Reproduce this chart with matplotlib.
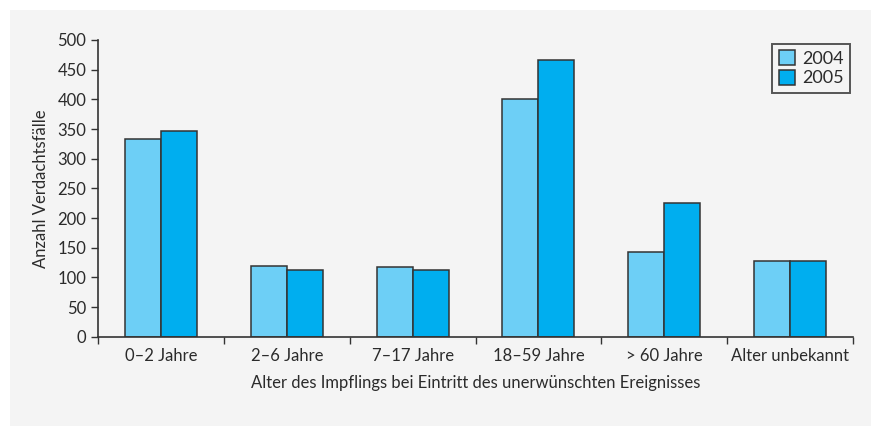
import numpy as np
import matplotlib
matplotlib.use('Agg')
import matplotlib.pyplot as plt
from matplotlib.patches import Rectangle

categories = ['0\u20132 Jahre', '2\u20136 Jahre', '7\u201317 Jahre', '18\u201359 Jahre',
              '> 60 Jahre', 'Alter unbekannt']
series_names = ['2004', '2005']
values_2004 = [334, 119, 117, 400, 143, 128]
values_2005 = [347, 113, 113, 467, 225, 128]
yticks = [0, 50, 100, 150, 200, 250, 300, 350, 400, 450, 500]

plt.rcParams['font.family'] = ['Lato', 'DejaVu Sans']
text_col = '#2b2b2b'
panel_col = '#f4f4f4'
edge_col = '#333333'
colors = ['#6dcff6', '#00aeef']
fs = 12

fig = plt.figure(figsize=(8.71, 4.26), dpi=100)
fig.patch.set_facecolor('white')
fig.patches.append(Rectangle((10 / 871, 0), 1, 1 - 10 / 426, transform=fig.transFigure,
                             facecolor=panel_col, edgecolor='none', zorder=-10))

ax = fig.add_axes([98 / 871, 1 - 336.7 / 426, (853 - 98) / 871, (336.7 - 40) / 426])
ax.set_facecolor(panel_col)

x = np.arange(len(categories)) + 0.5
w = 0.286
ax.bar(x - w / 2, values_2004, w, color=colors[0], edgecolor=edge_col, linewidth=1.1,
       label=series_names[0])
ax.bar(x + w / 2, values_2005, w, color=colors[1], edgecolor=edge_col, linewidth=1.1,
       label=series_names[1])

ax.set_xlim(0, len(categories))
ax.set_ylim(0, 500)
ax.set_yticks(yticks)
ax.set_xticks(np.arange(len(categories) + 1))
ax.set_xticklabels([])
ax.set_xticks(x, minor=True)
ax.set_xticklabels(categories, minor=True)
ax.tick_params(axis='x', which='minor', length=0, pad=8)
ax.tick_params(axis='both', which='major', length=5, width=1, color=edge_col)
ax.tick_params(labelsize=fs, labelcolor=text_col)
ax.tick_params(axis='x', which='minor', labelsize=fs, labelcolor=text_col)

for s in ['top', 'right']:
    ax.spines[s].set_visible(False)
for s in ['left', 'bottom']:
    ax.spines[s].set_color(edge_col)
    ax.spines[s].set_linewidth(1.2)

ax.set_ylabel('Anzahl Verdachtsfälle', fontsize=fs, color=text_col, labelpad=6)
ax.set_xlabel('Alter des Impflings bei Eintritt des unerwünschten Ereignisses',
              fontsize=fs, color=text_col, labelpad=8)

leg = ax.legend(loc='upper right', bbox_to_anchor=(0.996, 0.987), borderaxespad=0,
                fontsize=fs + 1, frameon=True, fancybox=False,
                handlelength=0.9, handleheight=0.9, handletextpad=0.4,
                borderpad=0.35, labelspacing=0.15, labelcolor=text_col)
leg.get_frame().set_edgecolor('#555555')
leg.get_frame().set_linewidth(1.4)
leg.get_frame().set_facecolor(panel_col)
leg.get_frame().set_alpha(1)

fig.savefig('out.png', dpi=100)
